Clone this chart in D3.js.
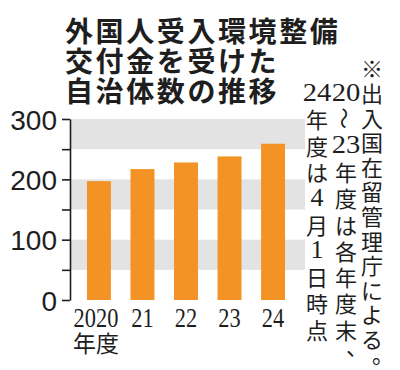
<!DOCTYPE html>
<html>
<head>
<meta charset="utf-8">
<script src="https://cdn.jsdelivr.net/npm/d3@7"></script>
<style>
  html, body { margin: 0; padding: 0; background: #fff; }
  svg { display: block; }
</style>
</head>
<body>
<svg id="chart"></svg>
<script>
// --------------------
//  data
// --------------------
const titleLines = ["外国人受入環境整備", "交付金を受けた", "自治体数の推移"];
const years = ["2020", "21", "22", "23", "24"];
const counts = [197, 217, 228, 238, 259];
const yTicks = [0, 50, 100, 150, 200, 250, 300];
const bandRanges = [[50, 100], [150, 200], [250, 300]];
const unitLabel = "年度";
// 縦書きの注記（右の列から）
const noteCols = [
    ["※", "出", "入", "国", "在", "留", "管", "理", "庁", "に", "よ", "る", "。"],
    ["20", "～", "23", "年", "度", "は", "各", "年", "度", "末", "、"],
    ["24", "年", "度", "は", "4", "月", "1", "日", "時", "点"]
];

// --------------------
//  settings
// --------------------
const width = 400;
const height = 370;
const ink = "#1e1e1e";
const orange = "#f39325";
const gray = "#e3e3e3";

const svg = d3.select("#chart")
    .attr("width", width)
    .attr("height", height);

const x = d3.scaleBand()
    .domain(years)
    .range([70, 302])
    .paddingInner(0.45)
    .paddingOuter(0.39);

const y = d3.scaleLinear()
    .domain([0, 300])
    .range([300, 119]);

// 背景の帯
svg.append("g")
    .selectAll("rect")
    .data(bandRanges)
    .join("rect")
    .attr("x", 70)
    .attr("width", 305 - 70)
    .attr("y", d => y(d[1]))
    .attr("height", d => y(d[0]) - y(d[1]))
    .attr("fill", gray);

// 棒
svg.append("g")
    .selectAll("rect")
    .data(counts)
    .join("rect")
    .attr("x", (d, i) => x(years[i]))
    .attr("width", x.bandwidth())
    .attr("y", d => y(d))
    .attr("height", d => y(0) - y(d))
    .attr("fill", orange);

// y軸
const yAxis = svg.append("g")
    .attr("transform", "translate(70,0)")
    .call(d3.axisLeft(y)
        .tickValues(yTicks)
        .tickSize(8)
        .tickSizeOuter(0)
        .tickPadding(5)
        .tickFormat(d => d % 100 === 0 ? d : ""));
yAxis.select(".domain").attr("stroke", ink).attr("stroke-width", 1.6);
yAxis.selectAll(".tick line").attr("stroke", ink).attr("stroke-width", 1.6);
yAxis.selectAll(".tick text")
    .attr("fill", ink)
    .attr("dy", "0.36em")
    .style("font-family", "'Liberation Sans Narrow', 'Liberation Sans', sans-serif")
    .style("font-size", "28px");

// x軸ラベル
svg.append("g")
    .selectAll("text")
    .data(years)
    .join("text")
    .attr("transform", d => `translate(${x(d) + x.bandwidth() / 2 - (d.length > 2 ? 3 : 0)},317) scale(0.8,1)`)
    .attr("text-anchor", "middle")
    .attr("dominant-baseline", "central")
    .attr("fill", ink)
    .style("font-family", "'Liberation Serif', serif")
    .style("font-size", "28px")
    .text(d => d);

svg.append("text")
    .attr("x", x(years[0]) + x.bandwidth() / 2 - 3)
    .attr("y", 342)
    .attr("text-anchor", "middle")
    .attr("dominant-baseline", "central")
    .attr("fill", ink)
    .style("font-family", "'Noto Sans CJK JP', sans-serif")
    .style("font-size", "23px")
    .text(unitLabel);

// タイトル
svg.append("g")
    .selectAll("text")
    .data(titleLines)
    .join("text")
    .attr("x", 65)
    .attr("y", (d, i) => 30 + i * 30)
    .attr("dominant-baseline", "central")
    .attr("fill", ink)
    .attr("letter-spacing", "2.6px")
    .style("font-family", "'Noto Sans CJK JP', sans-serif")
    .style("font-weight", "bold")
    .style("font-size", "28px")
    .text(d => d);

// 縦書き注記
const colX = [372, 346, 317];
const colTop = [92, 92, 92];
const colStep = [24.6, 26.3, 26.3];
noteCols.forEach((col, c) => {
    const g = svg.append("g");
    const offset = col[0] === "※" ? 1 : 0; // ※は一段上に置く
    col.forEach((ch, i) => {
        const cx = colX[c];
        const cy = (offset && i === 0) ? 67 : colTop[c] + (i - offset) * colStep[c];
        const isDigit = /^[0-9]+$/.test(ch);
        const t = g.append("text")
            .attr("text-anchor", "middle")
            .attr("dominant-baseline", "central")
            .attr("fill", ink)
            .style("font-family", isDigit ? "'Liberation Serif', serif" : "'Noto Sans CJK JP', sans-serif")
            .style("font-size", isDigit ? "26px" : "22px")
            .text(ch);
        if (ch === "～") {
            t.attr("transform", `translate(${cx},${cy}) rotate(90)`);
        } else if (ch === "。" || ch === "、") {
            t.attr("transform", `translate(${cx + 11},${cy - 10})`);
        } else if (isDigit && ch.length > 1) {
            t.attr("transform", `translate(${cx},${cy}) scale(1.1,1)`);
        } else {
            t.attr("transform", `translate(${cx},${cy})`);
        }
    });
});
</script>
</body>
</html>
